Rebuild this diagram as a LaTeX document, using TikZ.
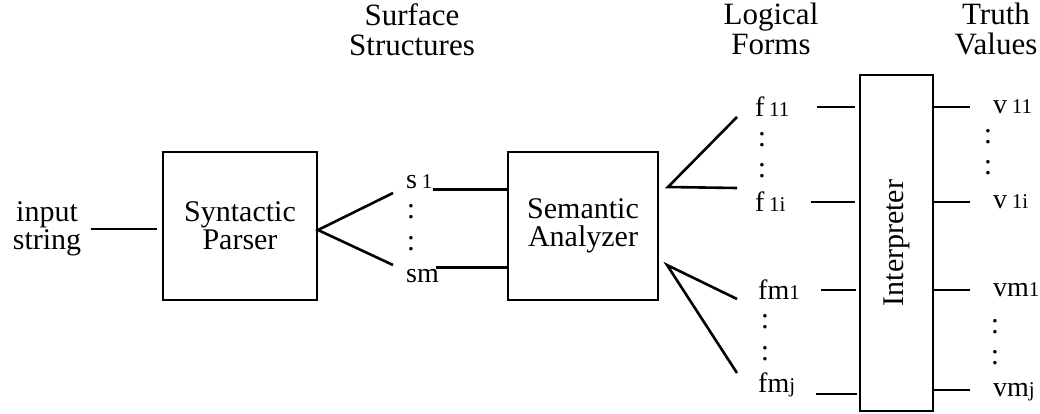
\documentclass[tikz,border=0pt]{standalone}
\usepackage{fontspec}
\setmainfont{Liberation Serif}
\usetikzlibrary{positioning}

\tikzset{
  box/.style={draw,line width=2.8pt,align=center,inner sep=0pt},
  lbl/.style={inner sep=1pt,text depth=0pt,font=\fontsize{28}{28}\selectfont},
  hdr/.style={align=center,font=\fontsize{31}{30}\selectfont},
  vdots/.style={inner sep=0pt,font=\fontsize{30}{30}\selectfont},
  wire/.style={line width=2.6pt},
}
\newcommand\ix[1]{{\fontsize{21}{21}\selectfont #1}}

\begin{document}
\begin{tikzpicture}[x=1pt,y=-1pt,font=\fontsize{30}{28}\selectfont]

    \useasboundingbox (0,0) rectangle (1040,413);

    \node[hdr](surf)at(412,30){Surface\\Structures};
    \node[hdr](logic)at(771,29){Logical\\Forms};
    \node[hdr](truth)at(996,29){Truth\\Values};

    \node[align=center](input)at(47,229){input\\string};
    \node[box,minimum width=154pt,minimum height=148pt](syn)at(240,226){Syntactic\\Parser};
    \node[box,minimum width=150pt,minimum height=148pt](sem)at(583,226){Semantic\\Analyzer};
    \node[box,minimum width=73pt,minimum height=336pt](interp)at(896.5,243){\rotatebox{90}{Interpreter}};

    \node[lbl,anchor=base west](s1)at(405,188){s\,\ix{1}};
    \node[lbl,anchor=base west](sm)at(405,282){sm};
    \node[vdots](sd1)at(411,212){:};
    \node[vdots](sd2)at(411,244){:};

    \node[lbl,anchor=west](f11)at(754,107){f\,\ix{11}};
    \node[lbl,anchor=west](f1i)at(754,202){f\,\ix{1i}};
    \node[lbl,anchor=west](fm1)at(757,290){fm\ix{1}};
    \node[lbl,anchor=west](fmj)at(757,383){fm\ix{j}};
    \node[vdots](fd1)at(762,140){:};
    \node[vdots](fd2)at(762,171){:};
    \node[vdots](fd3)at(765,322){:};
    \node[vdots](fd4)at(765,354){:};

    \node[lbl,anchor=west](v11)at(992,107){v\,\ix{11}};
    \node[lbl,anchor=west](v1i)at(992,202){v\,\ix{1i}};
    \node[lbl,anchor=west](vm1)at(992,290){vm\ix{1}};
    \node[lbl,anchor=west](vmj)at(992,390){vm\ix{j}};
    \node[vdots](vd1)at(988,137){:};
    \node[vdots](vd2)at(988,168){:};
    \node[vdots](vd3)at(995,327){:};
    \node[vdots](vd4)at(995,358){:};

    \coordinate(sfork)at(318,230);
    \coordinate(sup)at(393,193);
    \coordinate(sdown)at(393,265);
    \coordinate(ftop)at(668,187);
    \coordinate(ftopa)at(737,117);
    \coordinate(ftopb)at(737,188);
    \coordinate(fbot)at(667,265);
    \coordinate(fbota)at(737,299);
    \coordinate(fbotb)at(737,373);

    \draw[wire,shorten <=6pt,shorten >=5pt](input.east)--(input.east-|syn.west);
    \draw[wire](sup)--(sfork)--(sdown);
    \draw[wire](s1.south east)--(s1.south east-|sem.west);
    \draw[wire,shorten <=-4pt](sm.north east)--(sm.north east-|sem.west);
    \draw[wire](ftopa)--(ftop)--(ftopb);
    \draw[wire](fbota)--(fbot)--(fbotb);

    \draw[wire,shorten <=26pt,shorten >=4pt](f11.east)--(f11.east-|interp.west);
    \draw[wire,shorten <=24pt,shorten >=4pt](f1i.east)--(f1i.east-|interp.west);
    \draw[wire,shorten <=20pt,shorten >=3pt](fm1.east)--(fm1.east-|interp.west);
    \draw[wire,shorten <=20pt,shorten >=2pt](fmj.south east)--(fmj.south east-|interp.west);

    \draw[wire,shorten >=22pt](v11.west-|interp.east)--(v11.west);
    \draw[wire,shorten >=22pt](v1i.west-|interp.east)--(v1i.west);
    \draw[wire,shorten >=22pt](vm1.west-|interp.east)--(vm1.west);
    \draw[wire,shorten >=22pt](vmj.west-|interp.east)--(vmj.west);

\end{tikzpicture}
\end{document}
